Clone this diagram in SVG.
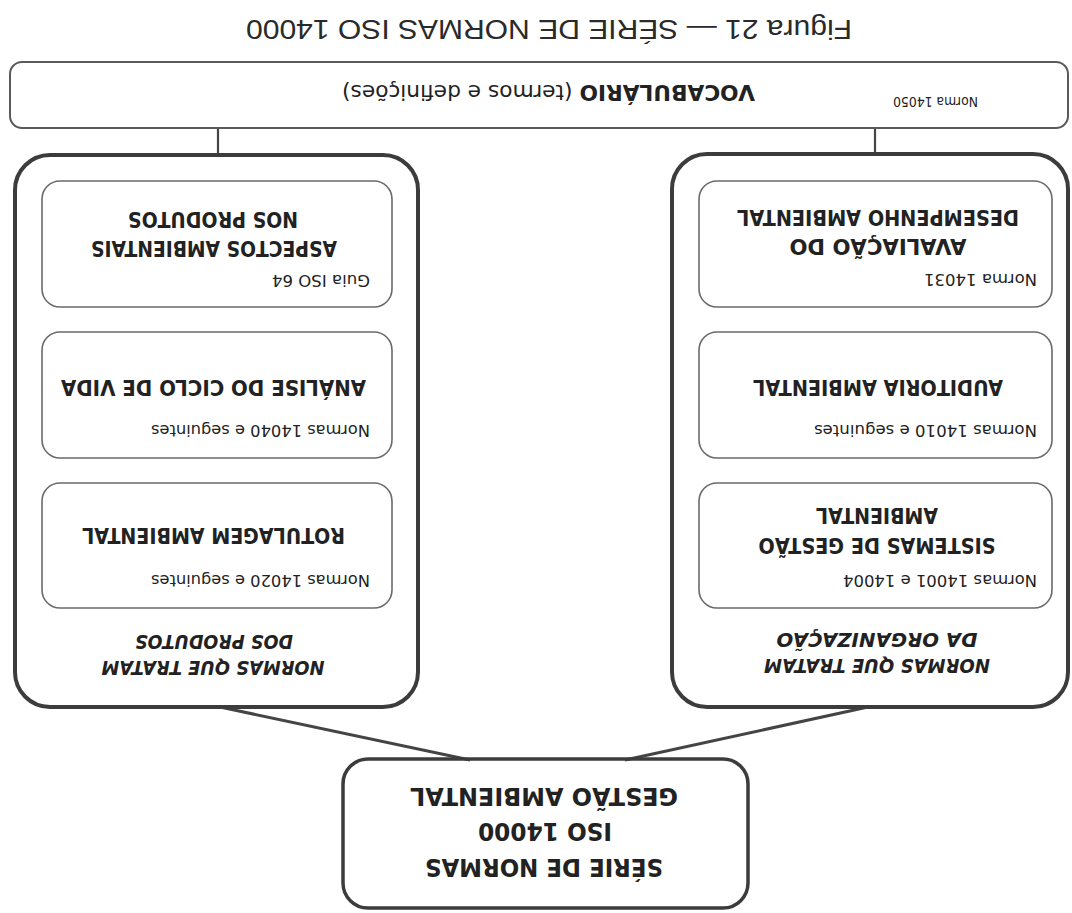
<svg xmlns="http://www.w3.org/2000/svg" width="1072" height="913" viewBox="0 0 1072 913">
<style>
.panel{fill:none;stroke:#3c3c3c;stroke-width:4}
.inner{fill:none;stroke:#6a6a6a;stroke-width:1.6}
.vocab{fill:none;stroke:#5a5a5a;stroke-width:2}
.root{fill:none;stroke:#3c3c3c;stroke-width:3.5}
.con{fill:none;stroke:#444;stroke-width:3}
.vcon{fill:none;stroke:#444;stroke-width:2.2}
text{fill:#222;font-family:"DejaVu Sans","Liberation Sans",sans-serif}
.hd{font-weight:bold;font-size:22px;text-anchor:middle}
.pl{font-weight:bold;font-style:italic;font-size:19px;text-anchor:middle}
.sm{font-size:16.5px}
.rt{font-weight:bold;font-size:25px;text-anchor:middle}
.ti{font-family:"Liberation Sans",Arial,sans-serif;font-size:28px;text-anchor:middle;fill:#2a2a2a}
</style>
<rect width="1072" height="913" fill="#ffffff"/>
<g transform="rotate(180 536 456.5)">
  <g id="connectors">
    <line class="vcon" x1="197" y1="759" x2="197" y2="785"/>
    <line class="vcon" x1="854" y1="758" x2="854" y2="785"/>
    <line class="con" x1="852" y1="206" x2="602" y2="153"/>
    <line class="con" x1="204" y1="206" x2="447" y2="153"/>
  </g>
  <g id="title">
    <text class="ti" x="523" y="893" textLength="606" lengthAdjust="spacingAndGlyphs">Figura 21 — SÉRIE DE NORMAS ISO 14000</text>
  </g>
  <g id="vocabulario">
    <rect class="vocab" x="4" y="785" width="1058" height="66" rx="12"/>
    <text x="94" y="816" font-size="14.5" textLength="85" lengthAdjust="spacingAndGlyphs">Norma 14050</text>
    <text x="523.5" y="828.5" text-anchor="middle" font-size="20.5" textLength="413" lengthAdjust="spacingAndGlyphs"><tspan font-weight="bold">VOCABULÁRIO</tspan> (termos e definições)</text>
  </g>
  <g id="raiz">
    <rect class="root" x="324" y="5" width="405" height="149" rx="25"/>
    <text class="rt" x="528" y="53.6" textLength="238" lengthAdjust="spacingAndGlyphs">SÉRIE DE NORMAS</text>
    <text class="rt" x="527" y="89.6" textLength="134" lengthAdjust="spacingAndGlyphs">ISO 14000</text>
    <text class="rt" x="528" y="125.1" textLength="268" lengthAdjust="spacingAndGlyphs">GESTÃO AMBIENTAL</text>
  </g>
  <g id="organizacao">
    <rect class="panel" x="4" y="206" width="396" height="553" rx="35"/>
    <text class="pl" x="195" y="253.9" textLength="226" lengthAdjust="spacingAndGlyphs">NORMAS QUE TRATAM</text>
    <text class="pl" x="195" y="279.9" textLength="201" lengthAdjust="spacingAndGlyphs">DA ORGANIZAÇÃO</text>
  </g>
  <g id="sistemas">
    <rect class="inner" x="20" y="305" width="353" height="125" rx="18"/>
    <text class="sm" x="35" y="338.3" textLength="194" lengthAdjust="spacingAndGlyphs">Normas 14001 e 14004</text>
    <text class="hd" x="195" y="375.4" textLength="237" lengthAdjust="spacingAndGlyphs">SISTEMAS DE GESTÃO</text>
    <text class="hd" x="195" y="405" textLength="122" lengthAdjust="spacingAndGlyphs">AMBIENTAL</text>
  </g>
  <g id="auditoria">
    <rect class="inner" x="20" y="455" width="353" height="126" rx="18"/>
    <text class="sm" x="35" y="488.3" textLength="223" lengthAdjust="spacingAndGlyphs">Normas 14010 e seguintes</text>
    <text class="hd" x="194" y="533" textLength="250" lengthAdjust="spacingAndGlyphs">AUDITORIA AMBIENTAL</text>
  </g>
  <g id="avaliacao">
    <rect class="inner" x="20" y="606" width="353" height="126" rx="18"/>
    <text class="sm" x="35" y="639.3" textLength="113" lengthAdjust="spacingAndGlyphs">Norma 14031</text>
    <text class="hd" x="194" y="674" textLength="177" lengthAdjust="spacingAndGlyphs">AVALIAÇÃO DO</text>
    <text class="hd" x="194" y="703" textLength="282" lengthAdjust="spacingAndGlyphs">DESEMPENHO AMBIENTAL</text>
  </g>
  <g id="produtos">
    <rect class="panel" x="654" y="206" width="403" height="552" rx="35"/>
    <text class="pl" x="859" y="251.9" textLength="223" lengthAdjust="spacingAndGlyphs">NORMAS QUE TRATAM</text>
    <text class="pl" x="858" y="277.9" textLength="158" lengthAdjust="spacingAndGlyphs">DOS PRODUTOS</text>
  </g>
  <g id="rotulagem">
    <rect class="inner" x="680" y="305" width="350" height="125" rx="18"/>
    <text class="sm" x="702" y="337.6" textLength="219" lengthAdjust="spacingAndGlyphs">Normas 14020 e seguintes</text>
    <text class="hd" x="858.5" y="385" textLength="263" lengthAdjust="spacingAndGlyphs">ROTULAGEM AMBIENTAL</text>
  </g>
  <g id="analise">
    <rect class="inner" x="680" y="455" width="350" height="126" rx="18"/>
    <text class="sm" x="702" y="488" textLength="219" lengthAdjust="spacingAndGlyphs">Normas 14040 e seguintes</text>
    <text class="hd" x="858.5" y="533" textLength="305" lengthAdjust="spacingAndGlyphs">ANÁLISE DO CICLO DE VIDA</text>
  </g>
  <g id="aspectos">
    <rect class="inner" x="680" y="606" width="350" height="126" rx="18"/>
    <text class="sm" x="702" y="638.3" textLength="98" lengthAdjust="spacingAndGlyphs">Guia ISO 64</text>
    <text class="hd" x="858" y="672" textLength="246" lengthAdjust="spacingAndGlyphs">ASPECTOS AMBIENTAIS</text>
    <text class="hd" x="859" y="701.4" textLength="170" lengthAdjust="spacingAndGlyphs">NOS PRODUTOS</text>
  </g>
</g>
</svg>
